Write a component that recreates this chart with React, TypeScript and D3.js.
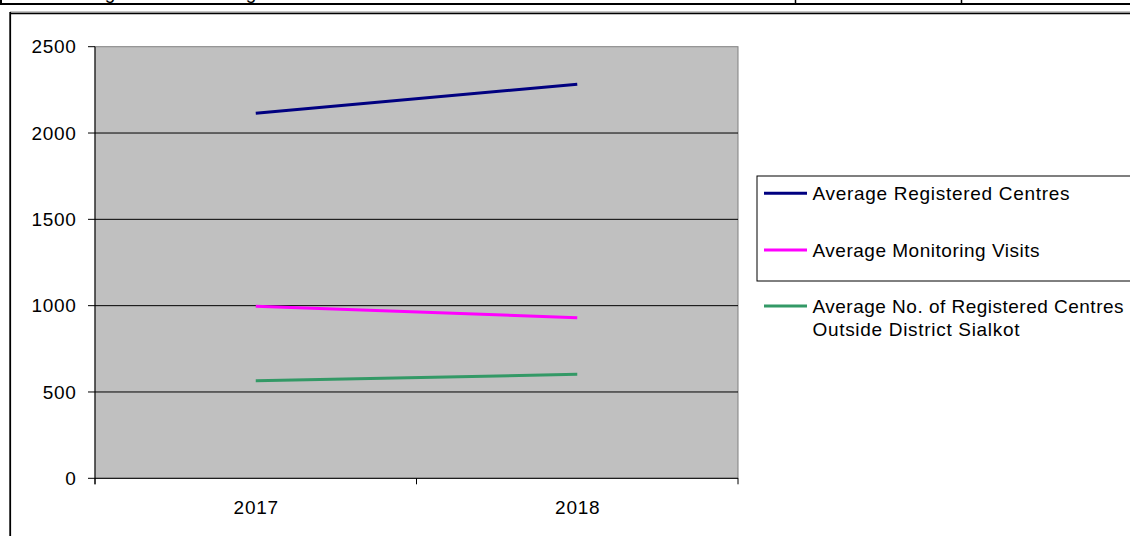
import * as d3 from 'd3'

const years = ['2017', '2018']
const registeredCentres = [2115, 2283]
const monitoringVisits = [997, 930]
const outsideSialkot = [565, 602]
const yTicks = [0, 500, 1000, 1500, 2000, 2500]

const seriesNames = [
    ['Average Registered Centres'],
    ['Average Monitoring Visits'],
    ['Average No. of Registered Centres', 'Outside District Sialkot'],
]
const seriesColors = ['#000080', '#FF00FF', '#339966']

const font = '"Liberation Sans", Arial, sans-serif'

const App = () => {
    const width = 1130
    const height = 536
    const plot = { left: 95, right: 738, top: 46.7, bottom: 478.3 }

    const x = d3.scaleBand().domain(years).range([plot.left, plot.right])
    const y = d3.scaleLinear().domain([0, 2500]).range([plot.bottom, plot.top])

    const line = d3
        .line<number>()
        .x((_, i) => x(years[i])! + x.bandwidth() / 2)
        .y(d => y(d))

    const allSeries = [registeredCentres, monitoringVisits, outsideSialkot]
    const legendY = [193.3, 250, 306]
    // rendered widths of the legend lines in the original
    const legendWidths = [[257], [227], [311, 207]]

    return (
        <svg
            width={width}
            height={height}
            style={{ position: 'absolute', left: 0, top: 0, background: '#fff' }}
            fontFamily={font}
        >
            {/* cut-off table row above the chart */}
            <text fontSize={19} letterSpacing={0.7} y={-1} fill="#000">
                <tspan x={52}>Average</tspan>
                <tspan x={220}>Registered</tspan>
            </text>
            <line x1={0} x2={width} y1={4} y2={4} stroke="#000" strokeWidth={2} />
            <line x1={1} x2={1} y1={0} y2={4} stroke="#000" strokeWidth={2} />
            <line x1={795.5} x2={795.5} y1={0} y2={4} stroke="#000" strokeWidth={1.5} />
            <line x1={961.5} x2={961.5} y1={0} y2={4} stroke="#000" strokeWidth={1.5} />

            {/* chart frame */}
            <line x1={10} x2={width} y1={12} y2={12} stroke="#888" strokeWidth={1} />
            <line x1={10} x2={width} y1={13.5} y2={13.5} stroke="#000" strokeWidth={1.5} />
            <line x1={10.2} x2={10.2} y1={12} y2={height} stroke="#000" strokeWidth={1.8} />

            {/* plot area */}
            <rect
                x={plot.left}
                y={plot.top}
                width={plot.right - plot.left}
                height={plot.bottom - plot.top}
                fill="#C0C0C0"
                stroke="#808080"
                strokeWidth={1}
            />
            {yTicks.filter(t => t > 0 && t < 2500).map(t => (
                <line key={t} x1={plot.left} x2={plot.right} y1={y(t)} y2={y(t)} stroke="#000" strokeWidth={1} />
            ))}

            {/* y axis */}
            <line x1={plot.left} x2={plot.left} y1={plot.top} y2={plot.bottom + 6} stroke="#000" strokeWidth={1} />
            {yTicks.map(t => (
                <g key={t}>
                    <line x1={plot.left - 7} x2={plot.left} y1={y(t)} y2={y(t)} stroke="#000" strokeWidth={1} />
                    <text
                        x={76.5}
                        y={y(t) + 6.6}
                        textAnchor="end"
                        fontSize={19}
                        letterSpacing={0.7}
                        fill="#000"
                    >
                        {t}
                    </text>
                </g>
            ))}

            {/* x axis */}
            <line x1={plot.left} x2={plot.right} y1={plot.bottom} y2={plot.bottom} stroke="#000" strokeWidth={1} />
            {[...years.map(yr => x(yr)!), plot.right].map((px, i) => (
                <line key={i} x1={px} x2={px} y1={plot.bottom} y2={plot.bottom + 6} stroke="#000" strokeWidth={1} />
            ))}
            {years.map(yr => (
                <text
                    key={yr}
                    x={x(yr)! + x.bandwidth() / 2 + 0.4}
                    y={514}
                    textAnchor="middle"
                    fontSize={19}
                    letterSpacing={0.7}
                    fill="#000"
                >
                    {yr}
                </text>
            ))}

            {/* series */}
            {allSeries.map((s, i) => (
                <path key={i} d={line(s)!} fill="none" stroke={seriesColors[i]} strokeWidth={3} />
            ))}

            {/* legend */}
            <rect x={757} y={176} width={400} height={105} fill="#fff" stroke="#000" strokeWidth={1} />
            {seriesNames.map((names, i) => (
                <g key={i}>
                    <line x1={764} x2={807} y1={legendY[i]} y2={legendY[i]} stroke={seriesColors[i]} strokeWidth={3} />
                    {names.map((n, j) => (
                        <text
                            key={j}
                            x={812.5}
                            y={legendY[i] + 6.8 + j * 23.5}
                            fontSize={19}
                            textLength={legendWidths[i][j]}
                            lengthAdjust="spacing"
                            fill="#000"
                        >
                            {n}
                        </text>
                    ))}
                </g>
            ))}
        </svg>
    )
}

export default App
